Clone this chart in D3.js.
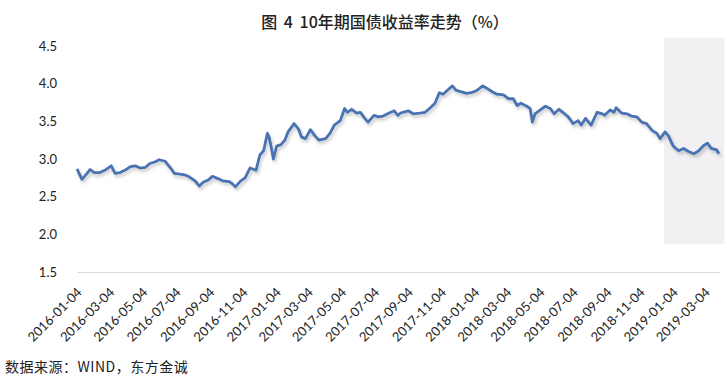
<!DOCTYPE html>
<html>
<head>
<meta charset="utf-8">
<script src="https://cdn.jsdelivr.net/npm/d3@7/dist/d3.min.js"></script>
<style>
	body { margin: 0; background: #fff; }
	svg { display: block; }
	.axis text { font-family: Lato, "Liberation Sans", sans-serif; font-size: 13px; fill: #222; }
</style>
</head>
<body>
<svg id="chart"></svg>
<script>
// data (date, 10y yield %)
const dates = [
	'2016-01-04','2016-01-13','2016-01-19','2016-01-28','2016-02-05','2016-02-15','2016-02-24','2016-03-07',
	'2016-03-14','2016-03-23','2016-04-01','2016-04-11','2016-04-20','2016-04-29','2016-05-09','2016-05-17',
	'2016-05-26','2016-06-03','2016-06-14','2016-06-23','2016-07-01','2016-07-11','2016-07-20','2016-07-29',
	'2016-08-08','2016-08-16','2016-08-23','2016-09-01','2016-09-09','2016-09-19','2016-09-28','2016-10-10',
	'2016-10-14','2016-10-21','2016-10-31','2016-11-08','2016-11-17','2016-11-28','2016-12-05','2016-12-12',
	'2016-12-19','2016-12-22','2016-12-26','2016-12-30','2017-01-05','2017-01-13','2017-01-20','2017-01-26',
	'2017-02-06','2017-02-14','2017-02-20','2017-02-27','2017-03-08','2017-03-16','2017-03-24','2017-04-05',
	'2017-04-13','2017-04-21','2017-05-02','2017-05-10','2017-05-15','2017-05-23','2017-06-01','2017-06-08',
	'2017-06-16','2017-06-22','2017-07-03','2017-07-11','2017-07-20','2017-07-28','2017-08-09','2017-08-16',
	'2017-08-21','2017-08-25','2017-09-04','2017-09-13','2017-09-25','2017-10-05','2017-10-13','2017-10-23',
	'2017-10-31','2017-11-07','2017-11-16','2017-11-24','2017-12-01','2017-12-11','2017-12-20','2017-12-29',
	'2018-01-08','2018-01-19','2018-01-26','2018-02-06','2018-02-14','2018-02-26','2018-03-07','2018-03-16',
	'2018-03-23','2018-03-30','2018-04-10','2018-04-16','2018-04-20','2018-04-25','2018-05-04','2018-05-14',
	'2018-05-23','2018-05-30','2018-06-08','2018-06-15','2018-06-25','2018-07-04','2018-07-13','2018-07-19',
	'2018-07-27','2018-08-06','2018-08-17','2018-08-27','2018-08-31','2018-09-10','2018-09-17','2018-09-21',
	'2018-10-01','2018-10-11','2018-10-19','2018-10-29','2018-11-07','2018-11-16','2018-11-26','2018-12-05',
	'2018-12-11','2018-12-20','2018-12-26','2019-01-04','2019-01-14','2019-01-23','2019-02-01','2019-02-11',
	'2019-02-20','2019-03-01','2019-03-08','2019-03-15','2019-03-25','2019-03-29'
];
const yields = [
	2.87,2.73,2.78,2.86,2.82,2.82,2.85,2.91,
	2.81,2.82,2.85,2.90,2.91,2.88,2.89,2.94,
	2.96,2.99,2.97,2.89,2.81,2.80,2.79,2.76,
	2.71,2.64,2.69,2.72,2.77,2.74,2.71,2.70,
	2.68,2.63,2.71,2.75,2.88,2.85,3.05,3.11,
	3.34,3.29,3.16,3.00,3.17,3.19,3.25,3.36,
	3.47,3.40,3.29,3.27,3.39,3.31,3.25,3.27,
	3.34,3.45,3.51,3.67,3.62,3.66,3.61,3.62,
	3.54,3.49,3.58,3.56,3.57,3.60,3.64,3.58,
	3.61,3.62,3.64,3.60,3.61,3.62,3.67,3.74,
	3.88,3.86,3.92,3.97,3.91,3.89,3.87,3.88,
	3.91,3.97,3.94,3.89,3.86,3.85,3.80,3.80,
	3.71,3.74,3.70,3.67,3.49,3.60,3.65,3.70,
	3.67,3.60,3.66,3.62,3.56,3.47,3.51,3.45,
	3.54,3.45,3.62,3.60,3.58,3.65,3.62,3.68,
	3.61,3.60,3.57,3.56,3.49,3.47,3.38,3.34,
	3.27,3.36,3.31,3.17,3.11,3.14,3.10,3.07,
	3.11,3.18,3.21,3.14,3.12,3.07
];
const xTickLabels = [
	'2016-01-04','2016-03-04','2016-05-04','2016-07-04','2016-09-04','2016-11-04',
	'2017-01-04','2017-03-04','2017-05-04','2017-07-04','2017-09-04','2017-11-04',
	'2018-01-04','2018-03-04','2018-05-04','2018-07-04','2018-09-04','2018-11-04',
	'2019-01-04','2019-03-04'
];
const yTicks = [1.5, 2.0, 2.5, 3.0, 3.5, 4.0, 4.5];
// grey highlight box at the right end
const bandDates = ['2018-12-18', '2019-04-08'];
const bandValues = [1.87, 4.61];

const titleText = '图 4 10年期国债收益率走势（%）';
const sourceText = '数据来源：WIND，东方金诚';

const parseDate = d3.timeParse('%Y-%m-%d');
const series = dates.map((d, i) => ({date: parseDate(d), value: yields[i]}));

// dimensions
const totalW = 727, totalH = 383;
const margin = {top: 46, bottom: 111, left: 77, right: 7};
const width = totalW - margin.left - margin.right;
const height = totalH - margin.top - margin.bottom;

const $svg = d3.select('#chart')
	.attr('width', totalW)
	.attr('height', totalH);

// scales
const scaleX = d3.scaleTime()
	.domain([parseDate('2016-01-04'), parseDate('2019-03-31')])
	.range([0, width]);

const scaleY = d3.scaleLinear()
	.domain([1.5, 4.5])
	.range([height, 0]);

const defs = $svg.append('defs');
const shadow = defs.append('filter')
	.attr('id', 'shadow')
	.attr('x', '-5%').attr('y', '-20%')
	.attr('width', '110%').attr('height', '140%');
shadow.append('feDropShadow')
	.attr('dx', 1.5).attr('dy', 2.5)
	.attr('stdDeviation', 1.6)
	.attr('flood-color', '#000')
	.attr('flood-opacity', 0.22);

$svg.append('text')
	.attr('x', 385)
	.attr('y', 28)
	.attr('text-anchor', 'middle')
	.attr('xml:space', 'preserve')
	.style('white-space', 'pre')
	.style('font-family', '"Noto Sans CJK SC", sans-serif')
	.style('font-size', '16px')
	.style('font-weight', 500)
	.style('word-spacing', '3px')
	.style('fill', '#222')
	.text(titleText);

const $vis = $svg.append('g')
	.attr('transform', 'translate(' + margin.left + ',' + margin.top + ')');

$vis.append('rect')
	.attr('x', scaleX(parseDate(bandDates[0])))
	.attr('y', scaleY(bandValues[1]))
	.attr('width', scaleX(parseDate(bandDates[1])) - scaleX(parseDate(bandDates[0])))
	.attr('height', scaleY(bandValues[0]) - scaleY(bandValues[1]))
	.attr('fill', '#f1f1f3');

// y axis: labels only
const yAxis = $vis.append('g')
	.attr('class', 'axis axis--y')
	.attr('transform', 'translate(-17,0)')
	.call(d3.axisLeft(scaleY).tickValues(yTicks).tickSize(0).tickFormat(d3.format('.1f')));
yAxis.select('.domain').remove();

// x axis
const xAxis = $vis.append('g')
	.attr('class', 'axis axis--x')
	.attr('transform', 'translate(0,' + height + ')')
	.call(d3.axisBottom(scaleX).tickValues(xTickLabels.map(parseDate)).tickSize(0).tickFormat(d3.timeFormat('%Y-%m-%d')));
xAxis.select('.domain')
	.attr('stroke', '#d9d9d9')
	.attr('stroke-width', 1.2);
xAxis.selectAll('text')
	.attr('text-anchor', 'end')
	.attr('dy', 0)
	.attr('transform', 'translate(3,19) rotate(-45)');

const line = d3.line()
	.x(d => scaleX(d.date))
	.y(d => scaleY(d.value));

$vis.append('path')
	.datum(series)
	.attr('d', line)
	.attr('fill', 'none')
	.attr('stroke', '#4a72b2')
	.attr('stroke-width', 2.8)
	.attr('stroke-linejoin', 'round')
	.attr('filter', 'url(#shadow)');

$svg.append('text')
	.attr('x', 5)
	.attr('y', 372)
	.style('font-family', '"Noto Sans CJK SC", sans-serif')
	.style('font-size', '14px')
	.style('letter-spacing', '0.5px')
	.style('fill', '#222')
	.text(sourceText);
</script>
</body>
</html>
